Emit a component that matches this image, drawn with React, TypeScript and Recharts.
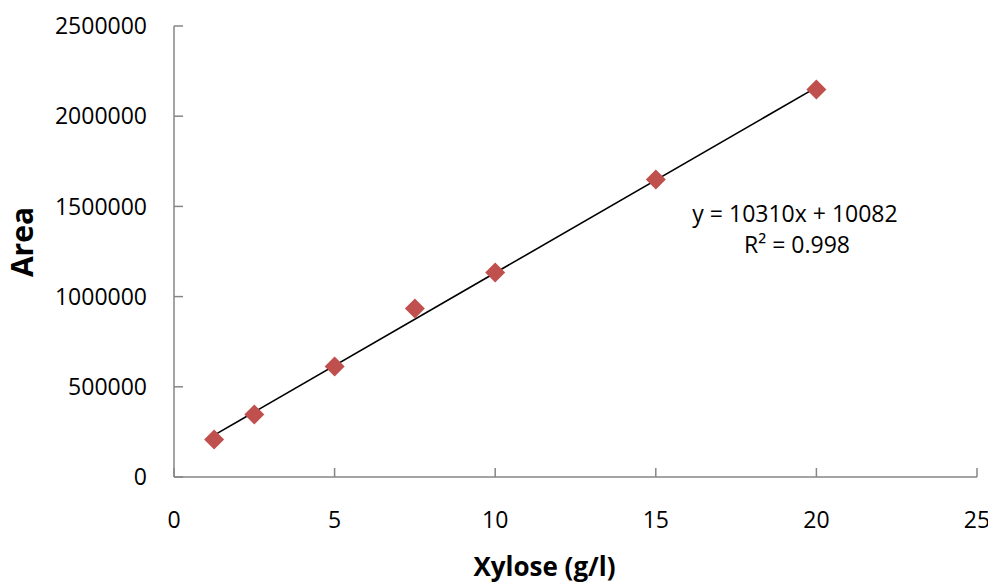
import React from 'react';
import { ScatterChart, Scatter, XAxis, YAxis, ReferenceLine } from 'recharts';

const xyloseGL = [1.25, 2.5, 5, 7.5, 10, 15, 20];
const areaValues = [208000, 346000, 612000, 934000, 1134000, 1649000, 2148000];
const trendX = [1.25, 20];
const trendY = [232000, 2160000];
const xTicks = [0, 5, 10, 15, 20, 25];
const yTicks = [0, 500000, 1000000, 1500000, 2000000, 2500000];
const equationText = 'y = 10310x + 10082';
const r2Text = 'R² = 0.998';
const xTitle = 'Xylose (g/l)';
const yTitle = 'Area';

const points = xyloseGL.map((x, i) => ({ x, y: areaValues[i] }));

const Diamond = (props: any) => {
  const { cx, cy } = props;
  const r = 10;
  return (
    <polygon
      points={`${cx},${cy - r} ${cx + r},${cy} ${cx},${cy + r} ${cx - r},${cy}`}
      fill="#C0504D"
    />
  );
};

const FONT = "'Open Sans', sans-serif";
const axisStroke = { stroke: '#868686', strokeWidth: 1.5 };

export default function App() {
  return (
    <div style={{ position: 'relative', width: 988, height: 577, fontFamily: FONT }}>
      <ScatterChart
        width={988}
        height={577}
        margin={{ top: 18, right: 19, left: 0, bottom: 0 }}
        style={{ overflow: 'visible' }}
      >
        <XAxis
          type="number"
          dataKey="x"
          domain={[0, 25]}
          ticks={xTicks}
          height={108}
          axisLine={axisStroke}
          tickLine={axisStroke}
          tickSize={-9}
          tickMargin={44}
          tick={{ fill: '#000', fontSize: 23, fontFamily: FONT }}
        />
        <YAxis
          type="number"
          dataKey="y"
          domain={[0, 2500000]}
          ticks={yTicks}
          width={166}
          axisLine={axisStroke}
          tickLine={axisStroke}
          tickSize={-9}
          tickMargin={36}
          tick={{ fill: '#000', fontSize: 23, fontFamily: FONT }}
        />
        <ReferenceLine
          segment={[
            { x: trendX[0], y: trendY[0] },
            { x: trendX[1], y: trendY[1] },
          ]}
          stroke="#000"
          strokeWidth={1.6}
          ifOverflow="visible"
        />
        <Scatter data={points} shape={Diamond} isAnimationActive={false} />
      </ScatterChart>
      <svg
        width={988}
        height={577}
        style={{ position: 'absolute', left: 0, top: 0, pointerEvents: 'none', overflow: 'visible' }}
      >
        <text x={787} y={214} textAnchor="middle" fontSize={23} fontFamily={FONT} fill="#000">
          {equationText}
        </text>
        <text x={789} y={245} textAnchor="middle" fontSize={23} fontFamily={FONT} fill="#000">
          {r2Text}
        </text>
        <text x={536.5} y={568} textAnchor="middle" fontSize={26} fontWeight="bold" fontFamily={FONT} fill="#000">
          {xTitle}
        </text>
        <text
          transform="translate(25,234) rotate(-90)"
          textAnchor="middle"
          fontSize={30}
          fontWeight="bold"
          fontFamily={FONT}
          fill="#000"
        >
          {yTitle}
        </text>
      </svg>
    </div>
  );
}
